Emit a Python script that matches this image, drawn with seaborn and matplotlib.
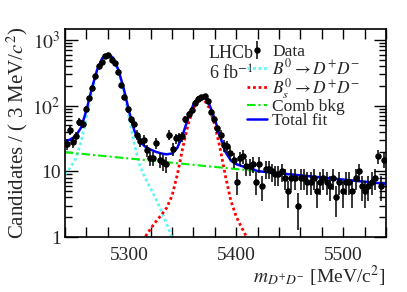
import numpy as np
import pandas as pd
import matplotlib
matplotlib.use("Agg")
import matplotlib.pyplot as plt
import seaborn as sns
from matplotlib.ticker import FixedLocator, FixedFormatter, NullFormatter, MultipleLocator

# ---------------- data ----------------
bin_low, bin_width, n_bins = 5240.0, 3.0, 100
counts = [26, 42, 28, 34, 57, 53, 88, 131, 185, 282,
          409, 469, 578, 593, 498, 448, 331, 208, 135, 88,
          62, 53, 36, 29, 30, 21, 16, 16, 27, 15,
          14, 13, 36, 22, 32, 33, 34, 62, 74, 85,
          110, 128, 134, 140, 118, 80, 62, 45, 36, 25,
          24, 19, 15, 7, 16, 17, 12, 12, 13, 7,
          13, 6, 11, 11, 10, 9, 9, 10, 8, 5,
          8, 8, 3, 8, 8, 7, 7, 8, 5, 7,
          8, 7, 6, 8, 4, 7, 5, 7, 7, 5,
          8, 10, 6, 5, 6, 7, 8, 17, 6, 15]

# fit components sampled every 5 MeV/c^2
curve_start, curve_step = 5240.0, 5.0
comb_bkg = [19.60, 19.24, 18.89, 18.54, 18.20, 17.87, 17.54, 17.22, 16.90, 16.59,
            16.29, 15.99, 15.70, 15.41, 15.13, 14.85, 14.58, 14.31, 14.05, 13.79,
            13.54, 13.29, 13.05, 12.81, 12.57, 12.34, 12.12, 11.89, 11.68, 11.46,
            11.25, 11.05, 10.84, 10.65, 10.45, 10.26, 10.07, 9.89, 9.71, 9.53,
            9.35, 9.18, 9.01, 8.85, 8.69, 8.53, 8.37, 8.22, 8.07, 7.92,
            7.77, 7.63, 7.49, 7.35, 7.22, 7.09, 6.96, 6.83, 6.70, 6.58, 6.46]
b0_start = 5240.0
b0_sig = [9.0, 11.4, 15.6, 27.7, 66.7, 164, 334, 519, 602, 519,
          333, 163, 64.7, 25.0, 12.3, 7.9, 5.5, 3.8, 2.51, 1.59,
          0.97, 0.56, 0.31]
bs_start = 5300.0
bs_sig = [0.37, 0.53, 0.745, 1.01, 1.34, 1.72, 2.16, 2.78, 4.23, 8.95,
          22.6, 51.3, 91.6, 123.2, 123.2, 91.6, 51.0, 22.2, 8.4, 3.58,
          2.05, 1.40, 0.98, 0.66]

labels = {
    "data": "Data",
    "b0": r"$B^0 \rightarrow D^{+}D^{-}$",
    "bs": r"$B_s^0 \rightarrow D^{+}D^{-}$",
    "comb": "Comb bkg",
    "total": "Total fit",
}
x_major = [5300, 5400, 5500]
y_major = [1, 10, 100, 1000]
y_labels = ["1", "10", r"$10^2$", r"$10^3$"]

# ---------------- derived tables ----------------
centers = bin_low + bin_width * (np.arange(n_bins) + 0.5)
cnt = np.array(counts, dtype=float)
df_data = pd.DataFrame({"m": centers, "n": cnt, "err": np.sqrt(cnt)})

xg = curve_start + curve_step * np.arange(len(comb_bkg))
comb_arr = np.array(comb_bkg)
b0_arr = np.zeros_like(comb_arr)
i0 = int(round((b0_start - curve_start) / curve_step))
b0_arr[i0:i0 + len(b0_sig)] = b0_sig
bs_arr = np.zeros_like(comb_arr)
i1 = int(round((bs_start - curve_start) / curve_step))
bs_arr[i1:i1 + len(bs_sig)] = bs_sig
total = comb_arr + b0_arr + bs_arr

df_b0 = pd.DataFrame({"m": b0_start + curve_step * np.arange(len(b0_sig)), "y": b0_sig})
df_bs = pd.DataFrame({"m": bs_start + curve_step * np.arange(len(bs_sig)), "y": bs_sig})
df_comb = pd.DataFrame({"m": xg, "y": comb_arr})
df_tot = pd.DataFrame({"m": xg, "y": total})

# ---------------- style ----------------
sns.set_theme(style="ticks")
plt.rcParams["font.family"] = ["Liberation Serif", "DejaVu Serif"]
plt.rcParams["mathtext.fontset"] = "stix"
plt.rcParams["axes.linewidth"] = 1.2

W, H = 407, 292
fig = plt.figure(figsize=(W / 100, H / 100), dpi=100)
L, R, T, B = 65, 386, 28.5, 237
ax = fig.add_axes([L / W, 1 - B / H, (R - L) / W, (B - T) / H])

# curves
sns.lineplot(data=df_b0, x="m", y="y", ax=ax, color="#5ff5f5", lw=2.0,
             linestyle=(0, (1, 1)), sort=False, estimator=None, label=labels["b0"])
sns.lineplot(data=df_bs, x="m", y="y", ax=ax, color="#ff0000", lw=2.0,
             linestyle=(0, (1, 1)), sort=False, estimator=None, label=labels["bs"])
sns.lineplot(data=df_comb, x="m", y="y", ax=ax, color="#00ee00", lw=1.5,
             linestyle=(0, (4, 1.5, 1, 1.5)), sort=False, estimator=None, label=labels["comb"])
sns.lineplot(data=df_tot, x="m", y="y", ax=ax, color="#0000ff", lw=1.8,
             sort=False, estimator=None, label=labels["total"])

# data
eb = ax.errorbar(df_data["m"], df_data["n"], yerr=df_data["err"], fmt="o", ms=3.6,
                 color="black", ecolor="black", elinewidth=1.1, capsize=0, zorder=5,
                 label=labels["data"])
sns.scatterplot(data=df_data, x="m", y="n", ax=ax, color="black", s=16,
                edgecolor="black", linewidth=0, zorder=6, legend=False)

ax.set_yscale("log")
ax.set_xlim(5240, 5540)
ax.set_ylim(1, 1500)

ax.xaxis.set_major_locator(FixedLocator(x_major))
ax.xaxis.set_minor_locator(MultipleLocator(20))
ax.yaxis.set_major_locator(FixedLocator(y_major))
ax.yaxis.set_major_formatter(FixedFormatter(y_labels))
ax.yaxis.set_minor_formatter(NullFormatter())
ax.tick_params(which="both", direction="in", top=True, right=True, color="black", width=1.0)
ax.tick_params(axis="x", which="major", length=7, pad=7, labelsize=14)
ax.tick_params(axis="x", which="minor", length=7)
ax.tick_params(axis="y", which="major", length=9, pad=3, labelsize=14)
ax.tick_params(axis="y", which="minor", length=5)
for s in ax.spines.values():
    s.set_color("black")

ax.set_ylabel(r"Candidates / ( 3 MeV/$c^{2}$)", fontsize=15, labelpad=2)
ax.set_xlabel(r"$m_{D^{+}D^{-}}$ [MeV/c$^{2}$]", fontsize=14, loc="right", labelpad=0)

ax.text(0.448, 0.882, "LHCb", transform=ax.transAxes, fontsize=13, va="center", ha="left")
ax.text(0.448, 0.782, r"6 fb$^{-1}$", transform=ax.transAxes, fontsize=13, va="center", ha="left")

handles, labs = ax.get_legend_handles_labels()
order = [labels["data"], labels["b0"], labels["bs"], labels["comb"], labels["total"]]
hmap = dict(zip(labs, handles))
leg = ax.legend([hmap[k] for k in order], order, loc="upper left",
                bbox_to_anchor=((247 - L) / (R - L), 1.0 - (44 - T) / (B - T)),
                frameon=False, fontsize=12.5, handlelength=1.15, handletextpad=0.3,
                labelspacing=-0.12, borderaxespad=0, borderpad=0)

fig.savefig("out.png", dpi=100)
